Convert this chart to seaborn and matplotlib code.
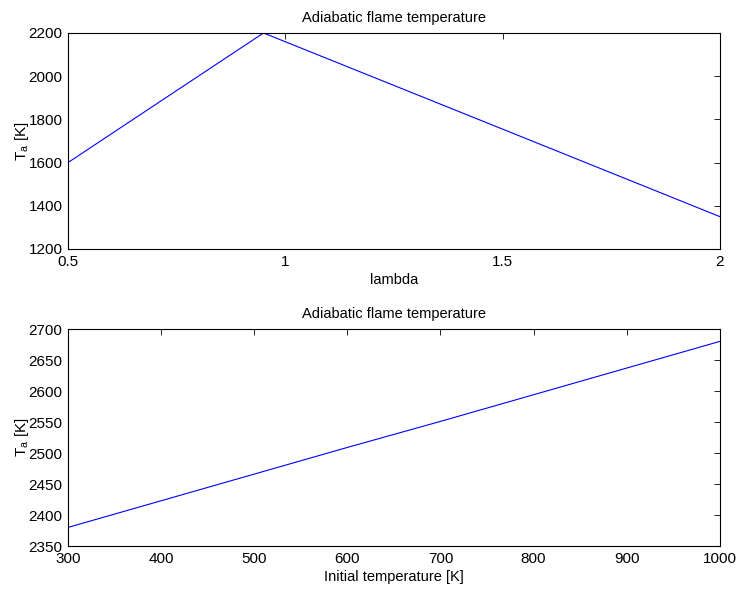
import matplotlib
matplotlib.use("Agg")
import matplotlib.pyplot as plt
import seaborn as sns
import pandas as pd

# Data
lambda_vals = [0.5, 0.95, 1.5, 2.0]
temp_lambda = [1600, 2200, 1755, 1350]

init_temp = [300, 400, 500, 600, 700, 800, 900, 1000]
temp_init = [2380, 2423, 2466, 2509, 2551, 2594, 2637, 2680]

title_text = "Adiabatic flame temperature"
ylabel_text = "T$_{a}$ [K]"

sns.set_style("white")
plt.rcParams['font.family'] = ['Liberation Sans', 'DejaVu Sans']
plt.rcParams['mathtext.default'] = 'regular'
plt.rcParams['font.size'] = 10
plt.rcParams['text.color'] = 'black'
plt.rcParams['axes.labelcolor'] = 'black'

fig = plt.figure(figsize=(7.39, 5.91), dpi=100)
ax1 = fig.add_axes([0.092, 0.5787, 0.882, 0.3655])
ax2 = fig.add_axes([0.092, 0.0761, 0.882, 0.3672])

df1 = pd.DataFrame({"lambda": lambda_vals, "T": temp_lambda})
df2 = pd.DataFrame({"Tin": init_temp, "T": temp_init})

sns.lineplot(data=df1, x="lambda", y="T", ax=ax1, color="#0000ff", linewidth=0.8)
sns.lineplot(data=df2, x="Tin", y="T", ax=ax2, color="#0000ff", linewidth=0.8)

ax1.set_xlim(0.5, 2)
ax1.set_ylim(1200, 2200)
ax1.set_xticks([0.5, 1, 1.5, 2])
ax1.set_xticklabels(["0.5", "1", "1.5", "2"])
ax1.set_yticks([1200, 1400, 1600, 1800, 2000, 2200])
ax1.set_xlabel("lambda", labelpad=3.5, fontsize=10.5, color="black")

ax2.set_xlim(300, 1000)
ax2.set_ylim(2350, 2700)
ax2.set_xticks([300, 400, 500, 600, 700, 800, 900, 1000])
ax2.set_yticks([2350, 2400, 2450, 2500, 2550, 2600, 2650, 2700])
ax2.set_xlabel("Initial temperature [K]", labelpad=3.5, fontsize=10.5, color="black")

for ax in (ax1, ax2):
    ax.set_title(title_text, fontsize=10.5, pad=8, color="black")
    ax.set_ylabel(ylabel_text, fontsize=11, labelpad=-2, color="black")
    ax.tick_params(direction="in", length=4, width=0.6, top=True, right=True,
                   labelsize=11, colors="black")
    ax.tick_params(axis="x", pad=4)
    ax.tick_params(axis="y", pad=4)
    for s in ax.spines.values():
        s.set_visible(True)
        s.set_linewidth(0.8)
        s.set_color("black")

fig.savefig("out.png", dpi=100)
